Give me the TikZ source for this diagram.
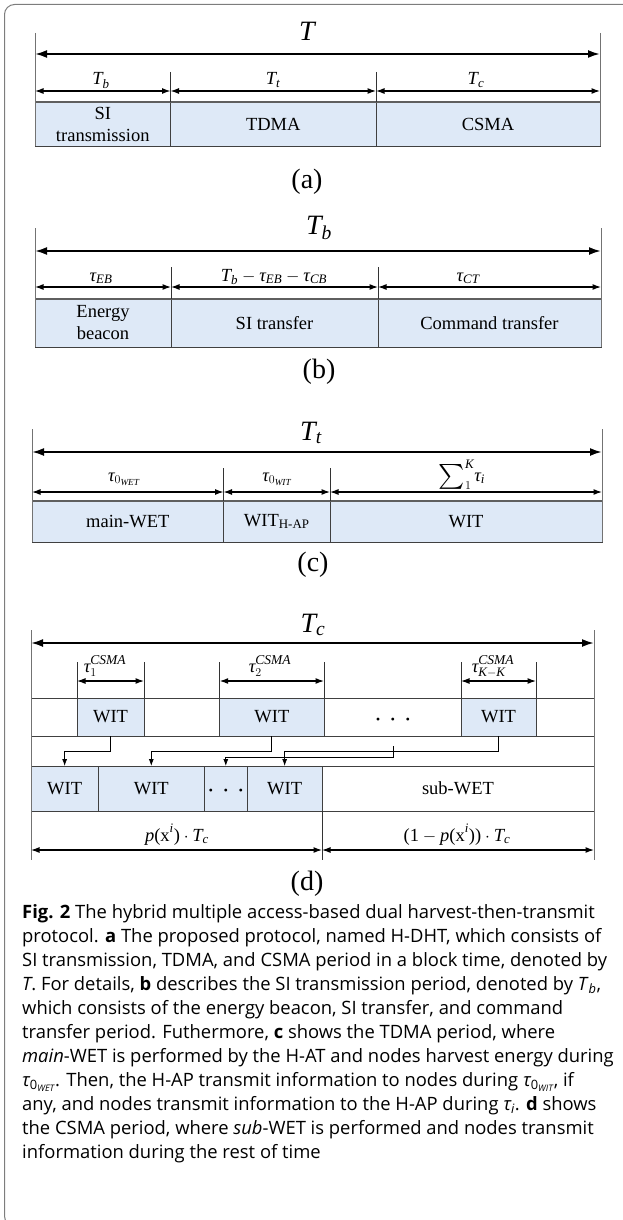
\documentclass[tikz,border=0pt]{standalone}
\usepackage{amsmath}
\usepackage{fontspec}
\setmainfont{Liberation Serif}
\newfontfamily\capfont{Open Sans}
\usetikzlibrary{arrows.meta}
\definecolor{boxblue}{RGB}{222,233,247}
\definecolor{framegray}{RGB}{125,125,125}
\definecolor{topgray}{RGB}{95,95,95}
\newcommand{\vi}[1]{\textit{#1}}
\newcommand{\ctau}{{\itshape τ}}
\newcommand{\csma}{\raisebox{1.5pt}{\fontsize{13.5}{14}\selectfont\itshape CSMA}}
\newcommand{\tridots}{\raisebox{-10pt}[0pt][0pt]{\fontsize{24}{24}\selectfont ·\hspace{7pt}·\hspace{7pt}·}}
\newcommand{\segbox}[7]{%
  \node[seg, fill=#6, minimum width={(#3-#2)*1pt}, minimum height={(#5-#4)*1pt}, anchor=north west] (#1) at (#2,#4) {#7};}
\tikzset{
  seg/.style={draw=black!75, line width=0.6pt, inner sep=0pt, outer sep=0pt, align=center, font=\fontsize{18.5}{22}\selectfont},
  bigarrow/.style={line width=2pt, {Latex[length=12pt,width=8pt]}-{Latex[length=12pt,width=8pt]}},
  dimarrow/.style={line width=1.2pt, {Latex[length=8.5pt,width=6pt]}-{Latex[length=8.5pt,width=6pt]}},
  extline/.style={draw=black!55, line width=0.8pt},
  divline/.style={draw=black!80, line width=0.6pt},
  topline/.style={draw=topgray, line width=1.5pt},
  conn/.style={line width=0.8pt, -{Latex[length=7pt,width=5pt]}},
  biglab/.style={font=\fontsize{28}{30}\selectfont, inner sep=0pt, anchor=base},
  dimlab/.style={font=\fontsize{18.5}{20}\selectfont, inner sep=0pt, anchor=base},
  panlab/.style={font=\fontsize{28}{30}\selectfont, inner sep=0pt},
  capline/.style={font=\capfont\fontsize{18.4}{22}\selectfont, anchor=base west, inner sep=0pt},
}
\begin{document}
\begin{tikzpicture}[x=1pt,y=-1pt]
\useasboundingbox (0,0) rectangle (623,1220);
\clip (0,0) rectangle (623,1220);
\draw[framegray, line width=1pt, rounded corners=10pt] (4.5,4.5) rectangle (660,1226);

% ---------------- panel (a)
\segbox{a1}{35}{170.5}{102}{146}{boxblue}{SI\\transmission}
\segbox{a2}{170.5}{376}{102}{146}{boxblue}{TDMA}
\segbox{a3}{376}{600}{102}{146}{boxblue}{CSMA}
\draw[topline] (a1.north west) -- (a3.north east);
\draw[extline] ([yshift=69pt]a1.north west) -- (a1.south west);
\draw[extline] ([yshift=69pt]a3.north east) -- (a3.south east);
\draw[divline] ([yshift=30pt]a1.north east) -- (a1.north east);
\draw[divline] ([yshift=30pt]a2.north east) -- (a2.north east);
\draw[bigarrow] ([yshift=48pt]a1.north west) -- ([yshift=48pt]a3.north east);
\draw[dimarrow] ([yshift=11pt]a1.north west) -- ([yshift=11pt]a1.north east);
\draw[dimarrow] ([yshift=11pt]a2.north west) -- ([yshift=11pt]a2.north east);
\draw[dimarrow] ([yshift=11pt]a3.north west) -- ([yshift=11pt]a3.north east);
\node[biglab] (aT) at (307,41) {$\vi{T}$};
\node[dimlab] (aTb) at (101,85) {$\vi{T}_{\vi{b}}$};
\node[dimlab] (aTt) at (273,85) {$\vi{T}_{\vi{t}}$};
\node[dimlab] (aTc) at (476,85) {$\vi{T}_{\vi{c}}$};
\node[panlab] (alab) at (307,182) {(a)};

% ---------------- panel (b)
\segbox{b1}{35}{171}{299}{347}{boxblue}{Energy\\beacon}
\segbox{b2}{171}{378}{299}{347}{boxblue}{SI transfer}
\segbox{b3}{378}{601}{299}{347}{boxblue}{Command transfer}
\draw[topline] (b1.north west) -- (b3.north east);
\draw[extline] ([yshift=71pt]b1.north west) -- (b1.south west);
\draw[extline] ([yshift=71pt]b3.north east) -- (b3.south east);
\draw[divline] ([yshift=32pt]b1.north east) -- (b1.north east);
\draw[divline] ([yshift=32pt]b2.north east) -- (b2.north east);
\draw[bigarrow] ([yshift=48pt]b1.north west) -- ([yshift=48pt]b3.north east);
\draw[dimarrow] ([yshift=12pt]b1.north west) -- ([yshift=12pt]b1.north east);
\draw[dimarrow] ([yshift=12pt]b2.north west) -- ([yshift=12pt]b2.north east);
\draw[dimarrow] ([yshift=12pt]b3.north west) -- ([yshift=12pt]b3.north east);
\node[biglab] (bT) at (319,234) {$\vi{T}_{\vi{b}}$};
\node[dimlab] (bEB) at (101,281) {$\vi{τ}_{\vi{EB}}$};
\node[dimlab] (bSI) at (274,281) {$\vi{T}_{\vi{b}}-\vi{τ}_{\vi{EB}}-\vi{τ}_{\vi{CB}}$};
\node[dimlab] (bCT) at (468,281) {$\vi{τ}_{\vi{CT}}$};
\node[panlab] (blab) at (319,372) {(b)};

% ---------------- panel (c)
\segbox{c1}{32}{223.5}{501}{542}{boxblue}{main-WET}
\segbox{c2}{223.5}{330}{501}{542}{boxblue}{WIT$_{\text{H-AP}}$}
\segbox{c3}{330}{602}{501}{542}{boxblue}{WIT}
\draw[topline] (c1.north west) -- (c3.north east);
\draw[extline] ([yshift=72pt]c1.north west) -- (c1.south west);
\draw[extline] ([yshift=72pt]c3.north east) -- (c3.south east);
\draw[divline] ([yshift=33pt]c1.north east) -- (c1.north east);
\draw[divline] ([yshift=33pt]c2.north east) -- (c2.north east);
\draw[bigarrow] ([yshift=49pt]c1.north west) -- ([yshift=49pt]c3.north east);
\draw[dimarrow] ([yshift=9pt]c1.north west) -- ([yshift=9pt]c1.north east);
\draw[dimarrow] ([yshift=9pt]c2.north west) -- ([yshift=9pt]c2.north east);
\draw[dimarrow] ([yshift=9pt]c3.north west) -- ([yshift=9pt]c3.north east);
\node[biglab] (cT) at (311,440) {$\vi{T}_{\vi{t}}$};
\node[dimlab] (cWET) at (124,481) {$\vi{τ}_{0_{\vi{WET}}}$};
\node[dimlab] (cWIT) at (277,481) {$\vi{τ}_{0_{\vi{WIT}}}$};
\node[dimlab] (cSum) at (462,481) {$\vcenter{\hbox{\fontsize{24}{24}\selectfont$\sum$}}_{1}^{\vi{K}}\vi{τ}_{\vi{i}}$};
\node[panlab] (clab) at (313,565) {(c)};

% ---------------- panel (d)
\segbox{r1}{31}{594}{698}{736}{white}{}
\segbox{w1}{77}{144}{698}{736}{boxblue}{WIT}
\segbox{w2}{219.7}{324}{698}{736}{boxblue}{WIT}
\segbox{w3}{461}{536}{698}{736}{boxblue}{WIT}
\node[inner sep=0pt] (rdots) at (393,717) {\tridots};
\segbox{v1}{31}{98.3}{766}{811}{boxblue}{WIT}
\segbox{v2}{98.3}{204.3}{766}{811}{boxblue}{WIT}
\segbox{v3}{204.3}{247.3}{766}{811}{boxblue}{\tridots}
\segbox{v4}{247.3}{322}{766}{811}{boxblue}{WIT}
\segbox{v5}{322}{594}{766}{811}{white}{sub-WET}
\draw[extline] ([yshift=68pt]r1.north west) -- ([yshift=-49pt]v1.south west);
\draw[extline] ([yshift=68pt]r1.north east) -- ([yshift=-49pt]v5.south east);
\draw[divline] (v4.south east) -- ([yshift=-49pt]v4.south east);
\foreach \w in {w1,w2,w3}{
  \draw[divline] ([yshift=36pt]\w.north west) -- (\w.north west);
  \draw[divline] ([yshift=36pt]\w.north east) -- (\w.north east);
  \draw[dimarrow] ([yshift=17pt]\w.north west) -- ([yshift=17pt]\w.north east);
}
\draw[bigarrow] ([yshift=55pt]r1.north west) -- ([yshift=55pt]r1.north east);
\draw[dimarrow] ([yshift=-39pt]v1.south west) -- ([yshift=-39pt]v4.south east);
\draw[dimarrow] ([yshift=-39pt]v5.south west) -- ([yshift=-39pt]v5.south east);
\draw[conn] (w1.south) -- ++(0,15.7) -| (v1.north);
\draw[conn] (w2.south) -- ++(0,15.7) -| (v2.north);
\coordinate (dsrc) at (393,746);
\draw[conn] (dsrc) -- ++(0,11) -| (v3.north);
\draw[conn] (w3.south) -- ++(0,15) -| (v4.north);
\node[biglab] (dT) at (313,632) {$\vi{T}_{\vi{c}}$};
\node[dimlab] (dt1) at (105,672) {$\vi{τ}_{1}^{\csma}$};
\node[dimlab] (dt2) at (270,672) {$\vi{τ}_{2}^{\csma}$};
\node[dimlab] (dtK) at (493,672) {$\vi{τ}_{\vi{K}-\vi{K}}^{\csma}$};
\node[dimlab] (dpl) at (177,841) {$\vi{p}\text{(x}^{\vi{i}}\text{)}\cdot\vi{T}_{\vi{c}}$};
\node[dimlab] (dpr) at (457,841) {$\text{(1}-\vi{p}\text{(x}^{\vi{i}}\text{))}\cdot\vi{T}_{\vi{c}}$};
\node[panlab] (dlab) at (307,884) {(d)};

% ---------------- caption
\node[capline] (l1) at (22,918) {{\bfseries Fig. 2} The hybrid multiple access-based dual harvest-then-transmit};
\node[capline] (l2) at (22,942) {protocol. {\bfseries a} The proposed protocol, named H-DHT, which consists of};
\node[capline] (l3) at (22,966) {SI transmission, TDMA, and CSMA period in a block time, denoted by};
\node[capline] (l4) at (22,990) {\textit{T}. For details, {\bfseries b} describes the SI transmission period, denoted by \textit{T}\textsubscript{\itshape b},};
\node[capline] (l5) at (22,1014) {which consists of the energy beacon, SI transfer, and command};
\node[capline] (l6) at (22,1038) {transfer period. Futhermore, {\bfseries c} shows the TDMA period, where};
\node[capline] (l7) at (22,1062) {\textit{main}-WET is performed by the H-AT and nodes harvest energy during};
\node[capline] (l8) at (22,1086) {\ctau\textsubscript{0\textsubscript{\itshape WET}}. Then, the H-AP transmit information to nodes during \ctau\textsubscript{0\textsubscript{\itshape WIT}}, if};
\node[capline] (l9) at (22,1110) {any, and nodes transmit information to the H-AP during \ctau\textsubscript{\itshape i}. {\bfseries d} shows};
\node[capline] (l10) at (22,1134) {the CSMA period, where \textit{sub}-WET is performed and nodes transmit};
\node[capline] (l11) at (22,1158) {information during the rest of time};
\end{tikzpicture}
\end{document}
